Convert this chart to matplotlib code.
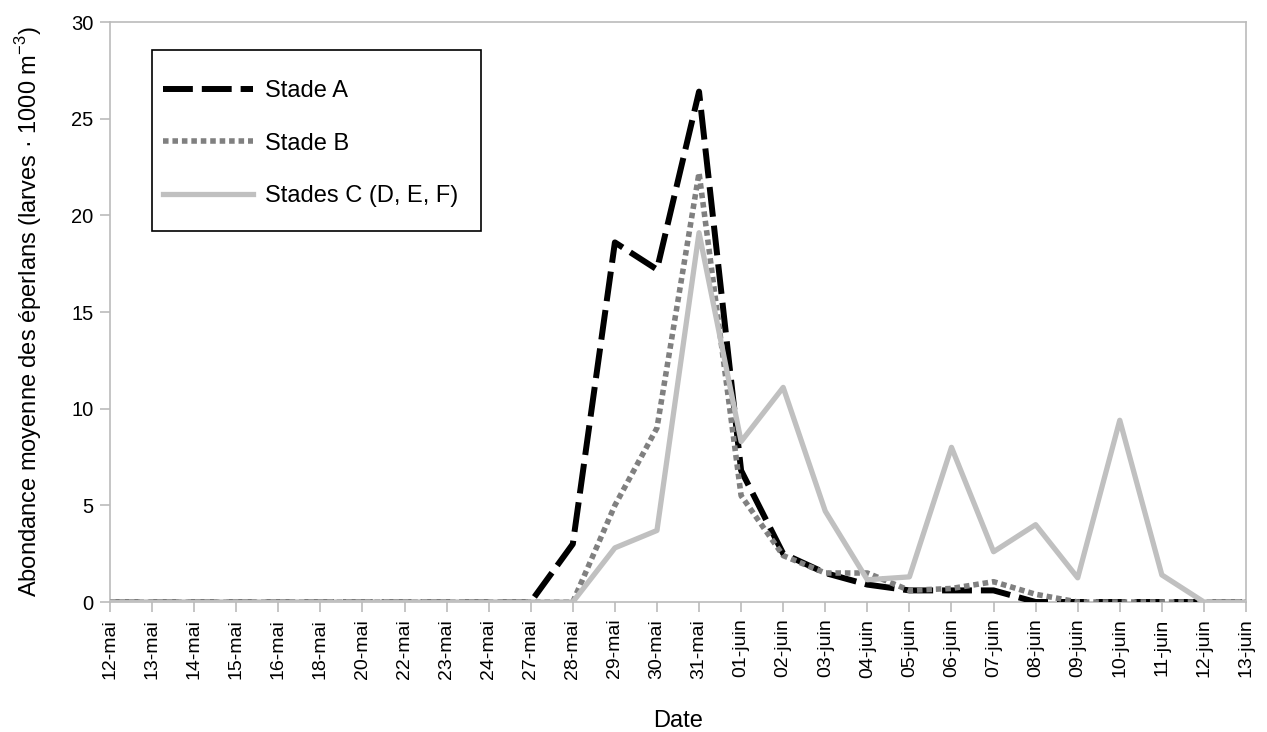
import numpy as np
import matplotlib.pyplot as plt
from matplotlib.patches import Rectangle

plt.rcParams['font.family'] = ['Liberation Sans', 'DejaVu Sans']

# Dates (categories)
dates = ['12-mai', '13-mai', '14-mai', '15-mai', '16-mai', '18-mai', '20-mai',
         '22-mai', '23-mai', '24-mai', '27-mai', '28-mai', '29-mai', '30-mai',
         '31-mai', '01-juin', '02-juin', '03-juin', '04-juin', '05-juin',
         '06-juin', '07-juin', '08-juin', '09-juin', '10-juin', '11-juin',
         '12-juin', '13-juin']

# Mean abundance (larvae per 1000 m3)
stade_a = [0, 0, 0, 0, 0, 0, 0, 0, 0, 0, 0, 3.0, 18.6, 17.2, 26.4, 6.8,
           2.5, 1.5, 0.9, 0.6, 0.6, 0.6, 0, 0, 0, 0, 0, 0]
stade_b = [0, 0, 0, 0, 0, 0, 0, 0, 0, 0, 0, 0, 5.0, 9.0, 22.2, 5.5,
           2.4, 1.5, 1.5, 0.6, 0.7, 1.05, 0.4, 0, 0, 0, 0, 0]
stade_c = [0, 0, 0, 0, 0, 0, 0, 0, 0, 0, 0, 0, 2.8, 3.7, 19.1, 8.3,
           11.1, 4.7, 1.15, 1.3, 8.0, 2.6, 4.0, 1.25, 9.4, 1.4, 0, 0]

x = np.arange(len(dates))

fig = plt.figure(figsize=(12.67, 7.32), dpi=100)
ax = fig.add_axes([110 / 1267, 1 - 602 / 732, 1136 / 1267, 580 / 732])

ax.plot(x, stade_a, color='black', lw=4.3, linestyle=(0, (5, 1.5)),
        label='Stade A', zorder=3)
ax.plot(x, stade_b, color='#808080', lw=4, linestyle=(0, (1, 0.7)),
        label='Stade B', zorder=3)
ax.plot(x, stade_c, color='#c0c0c0', lw=3.8, label='Stades C (D, E, F)',
        zorder=3)

ax.set_xlim(0, len(dates) - 1)
ax.set_ylim(0, 30)
ax.set_yticks(np.arange(0, 31, 5))
ax.set_xticks(x)
ax.set_xticklabels(dates, rotation=90)

for s in ax.spines.values():
    s.set_color('#bbbbbb')
    s.set_linewidth(1.2)
ax.tick_params(axis='both', colors='#bbbbbb', length=7, width=1.2,
               labelcolor='black')
ax.tick_params(axis='y', labelsize=14.5, pad=5)
ax.tick_params(axis='x', labelsize=14, pad=5)

ax.set_xlabel('Date', fontsize=17)
ax.xaxis.set_label_coords(0.5, -0.187)
ax.set_ylabel(r'Abondance moyenne des éperlans (larves · 1000 m$^{\mathregular{-3}}$)',
              fontsize=17)
ax.yaxis.set_label_coords(-0.058, 0.5)

# legend box drawn separately so the padding can differ per side
box = Rectangle((0.037, 0.64), 0.29, 0.312, transform=ax.transAxes,
                facecolor='white', edgecolor='black', lw=1.2, zorder=4)
ax.add_patch(box)
leg = ax.legend(loc='upper left', bbox_to_anchor=(0.047, 0.90), fontsize=17,
                handlelength=3.8, labelspacing=1.3, borderpad=0,
                handletextpad=0.5, frameon=False, borderaxespad=0)
leg.set_zorder(5)

fig.savefig('out.png', dpi=100)
